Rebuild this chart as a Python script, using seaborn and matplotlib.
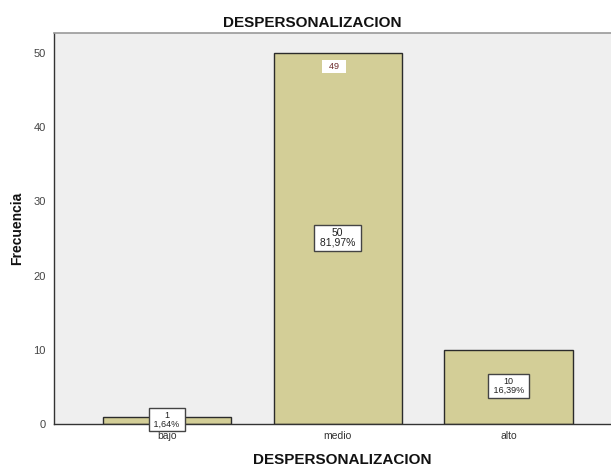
import matplotlib
matplotlib.use("Agg")
import matplotlib.pyplot as plt
import seaborn as sns
import pandas as pd

categories = ["bajo", "medio", "alto"]
counts = [1, 50, 10]
percent_labels = ["1,64%", "81,97%", "16,39%"]
label_sizes = [6.5, 7.5, 6.5]
extra_label = "49"
title = "DESPERSONALIZACION"
xlabel = "DESPERSONALIZACION"
ylabel = "Frecuencia"

df = pd.DataFrame({"cat": categories, "n": counts})

sns.set_style("white")
plt.rcParams['font.family'] = ['Liberation Sans', 'DejaVu Sans']

W, H = 611, 465
fig = plt.figure(figsize=(W / 100, H / 100), dpi=100)
ax = fig.add_axes([54 / W, 41 / H, 1 - 54 / W, (424 - 33) / H])
ax.set_facecolor("#EFEFEF")

sns.barplot(data=df, x="cat", y="n", order=categories, color="#D3CE97",
            saturation=1, width=0.75, edgecolor="#2b2b2b", linewidth=1.0, ax=ax)

ax.set_xlim(-0.66, 2.6)
ax.set_ylim(0, 52.7)
ax.set_yticks([0, 10, 20, 30, 40, 50])
ax.tick_params(axis="y", labelsize=8, length=5, width=1, color="#333333",
               labelcolor="#444444", pad=1, direction="out")
ax.tick_params(axis="x", labelsize=7.5, length=3.5, width=1, color="#333333",
               labelcolor="#333333", pad=1.5, direction="out")

for s in ["left", "bottom"]:
    ax.spines[s].set_color("#333333")
    ax.spines[s].set_linewidth(1)
ax.spines["top"].set_color("#999999")
ax.spines["top"].set_linewidth(1.2)
ax.spines["right"].set_visible(False)
ax.set_xlabel("")
ax.set_ylabel("")

fig.text(312 / W, 1 - 26.7 / H, title, ha="center", va="baseline",
         fontsize=11, fontweight="bold", color="#111111")
fig.text(342 / W, 1.5 / H, xlabel, ha="center", va="baseline",
         fontsize=11, fontweight="bold", color="#111111")
fig.text(17 / W, 1 - 228.5 / H, ylabel, ha="center", va="center", rotation=90,
         fontsize=10, fontweight="bold", color="#111111")

for i, (c, p, fs) in enumerate(zip(counts, percent_labels, label_sizes)):
    ax.text(i, c / 2 + 0.1, f"{c}\n {p} ", ha="center", va="center",
            fontsize=fs, linespacing=1.0, color="#222222", zorder=5,
            bbox=dict(boxstyle="square,pad=0.3", fc="white", ec="#444444", lw=1.0))

ax.text(0.98, 48.2, f"  {extra_label}  ", ha="center", va="center", fontsize=6.5,
        color="#6b2a2a",
        bbox=dict(boxstyle="square,pad=0.2", fc="white", ec="none"))

fig.savefig("out.png", dpi=100)
